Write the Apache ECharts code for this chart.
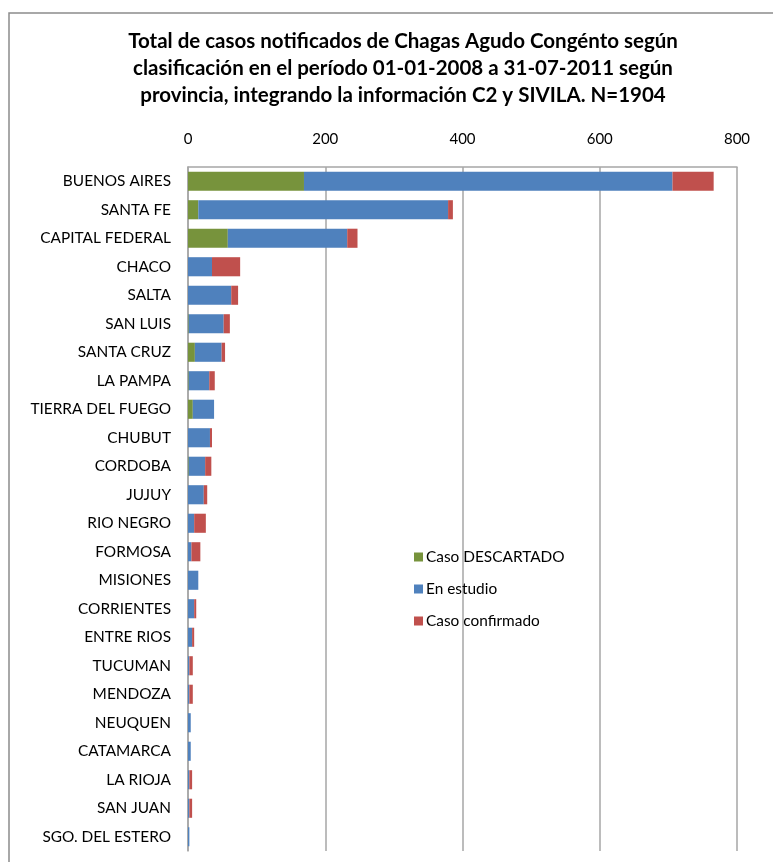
<!DOCTYPE html>
<html><head><meta charset="utf-8">
<script src="https://cdn.jsdelivr.net/npm/echarts@6/dist/echarts.min.js"></script>
<style>html,body{margin:0;padding:0;background:#fff}#c{width:773px;height:862px}</style>
</head><body><div id="c"></div>
<script>
const categories = ["BUENOS AIRES","SANTA FE","CAPITAL FEDERAL","CHACO","SALTA","SAN LUIS","SANTA CRUZ","LA PAMPA","TIERRA DEL FUEGO","CHUBUT","CORDOBA","JUJUY","RIO NEGRO","FORMOSA","MISIONES","CORRIENTES","ENTRE RIOS","TUCUMAN","MENDOZA","NEUQUEN","CATAMARCA","LA RIOJA","SAN JUAN","SGO. DEL ESTERO"];
const descartado = [169,15,58,0,0,1,10,1,7,0,1,0,0,0,0,0,0,0,0,0,0,0,0,0];
const enEstudio = [537,364,174,35,63,51,39,30,31,32,24,23,9,5,15,9,6,2,2,4,4,2,2,2];
const confirmado = [60,7,15,41,10,9,5,8,0,3,9,5,17,13,0,3,3,5,5,0,0,4,4,0];
const seriesNames = ["Caso DESCARTADO","En estudio","Caso confirmado"];
const xTicks = [0,200,400,600,800];

const FONT = 'Lato, "Liberation Sans", sans-serif';
const chart = echarts.init(document.getElementById('c'), null, {renderer:'canvas'});
const mk = (name, data, color) => ({
  name, type:'bar', stack:'total', data, barCategoryGap:'33%',
  itemStyle:{color}, emphasis:{disabled:true}
});
chart.setOption({
  animation:false,
  textStyle:{fontFamily:FONT},
  title:{
    text:'Total de casos notificados de Chagas Agudo Congénto según\nclasificación en el período 01-01-2008 a 31-07-2011 según\nprovincia, integrando la información C2 y SIVILA. N=1904',
    left:398, top:23, textAlign:'center',
    textStyle:{fontFamily:FONT, fontWeight:'bold', fontSize:20.5, lineHeight:27, color:'#000'}
  },
  graphic:[{type:'rect', shape:{x:9, y:13, width:900, height:900}, style:{fill:'none', stroke:'#8c8c8c', lineWidth:1.5}, silent:true}],
  legend:{
    orient:'vertical', left:409, top:544, itemGap:16, itemWidth:9, itemHeight:9,
    icon:'rect', data:seriesNames,
    textStyle:{fontFamily:FONT, fontSize:15.4, lineHeight:16, color:'#000', padding:[0,0,0,-2]}
  },
  grid:{left:188, right:36, top:167, bottom:11, containLabel:false},
  xAxis:{
    type:'value', position:'top', min:xTicks[0], max:xTicks[xTicks.length-1], interval:200,
    axisLine:{show:true, lineStyle:{color:'#a6a6a6', width:1.5}},
    axisTick:{show:false},
    splitLine:{show:true, lineStyle:{color:'#a6a6a6', width:1.5}},
    axisLabel:{fontFamily:FONT, fontSize:15, color:'#000', margin:20}
  },
  yAxis:{
    type:'category', inverse:true, data:categories,
    axisLine:{show:true, lineStyle:{color:'#a6a6a6', width:1.5}},
    axisTick:{show:false},
    axisLabel:{fontFamily:FONT, fontSize:15.4, color:'#000', margin:17, interval:0}
  },
  series:[
    mk(seriesNames[0], descartado, '#77933C'),
    mk(seriesNames[1], enEstudio, '#4F81BD'),
    mk(seriesNames[2], confirmado, '#C0504D')
  ]
});
</script></body></html>
